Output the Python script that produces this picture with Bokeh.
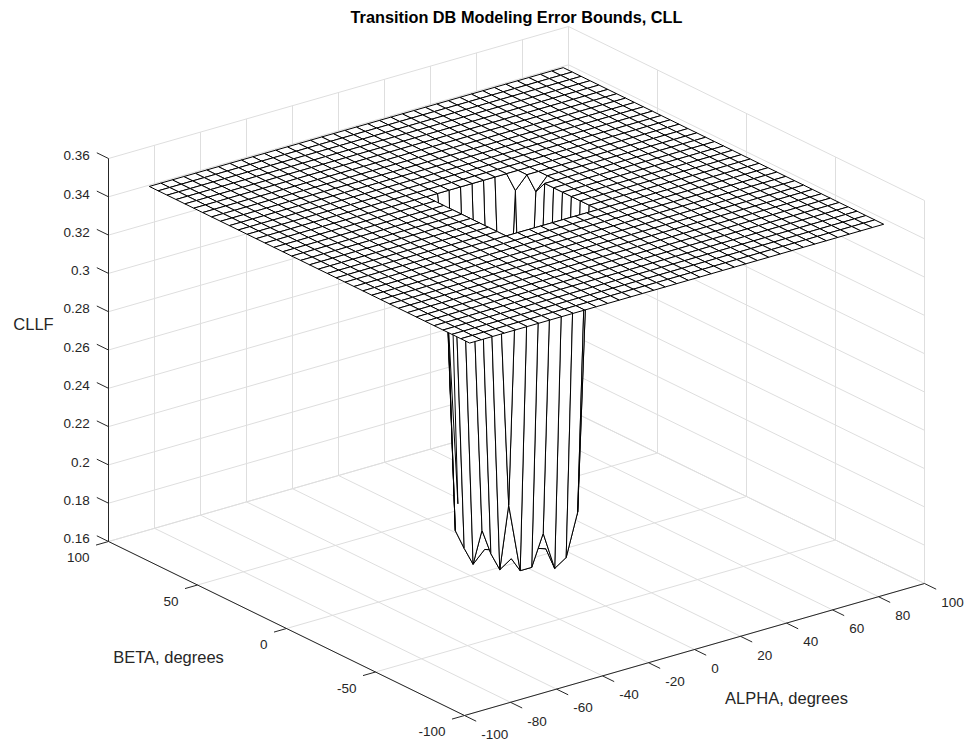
import numpy as np
from bokeh.plotting import figure
from bokeh.models import Range1d, ColumnDataSource, Label
from bokeh.core.properties import value
from bokeh.embed import file_html
from bokeh.resources import INLINE

# surface grid, degrees
alpha_deg = [-90, -85, -80, -75, -70, -65, -60, -55, -50, -45, -40, -35, -30, -25, -20, -15, -10, -5, 0,
             5, 10, 15, 20, 25, 30, 35, 40, 45, 50, 55, 60, 65, 70, 75, 80, 85, 90]
beta_deg = [-90, -85, -80, -75, -70, -65, -60, -55, -50, -45, -40, -35, -30, -25, -20, -15, -10, -5, 0,
            5, 10, 15, 20, 25, 30, 35, 40, 45, 50, 55, 60, 65, 70, 75, 80, 85, 90]
cllf_flat = 0.3465

# the well around alpha=beta=0 (rows: beta, columns: alpha)
well_alpha = [-15, -10, -5, 0, 5, 10, 15, 20]
well_beta = [-15, -10, -5, 0, 5, 10, 15, 20]
well_cllf = [
    [0.202, 0.166, 0.166, 0.182, 0.162, 0.166, 0.188, 0.3465],
    [0.166, 0.170, 0.168, 0.172, 0.170, 0.168, 0.172, 0.3465],
    [0.172, 0.168, 0.170, 0.168, 0.172, 0.170, 0.168, 0.3465],
    [0.182, 0.170, 0.168, 0.170, 0.168, 0.172, 0.170, 0.3465],
    [0.162, 0.168, 0.172, 0.168, 0.170, 0.168, 0.172, 0.3465],
    [0.168, 0.172, 0.170, 0.172, 0.168, 0.170, 0.180, 0.3465],
    [0.175, 0.170, 0.168, 0.170, 0.172, 0.180, 0.200, 0.340],
    [0.300, 0.185, 0.190, 0.195, 0.200, 0.210, 0.340, 0.3465],
]

alpha_ticks = [-100, -80, -60, -40, -20, 0, 20, 40, 60, 80, 100]
beta_ticks = [-100, -50, 0, 50, 100]
cllf_ticks = [0.16, 0.18, 0.2, 0.22, 0.24, 0.26, 0.28, 0.3, 0.32, 0.34, 0.36]
cllf_tick_labels = ["0.16", "0.18", "0.2", "0.22", "0.24", "0.26", "0.28", "0.3", "0.32", "0.34", "0.36"]

A_LIM = (-100, 100)
B_LIM = (-100, 100)
Z_LIM = (0.16, 0.36)

# view (az -37.5, el 30): page position of the box corner (alpha, beta, z mins) and box edges
ORIGIN = (464.0, 715.0)
EDGE_A = (460.0, -132.0)
EDGE_B = (-356.0, -174.0)
EDGE_Z = (0.0, -383.0)

DARK = "#262626"
GRID = "#dedede"
FONT = "Liberation Sans"


def unit(a, b, z):
    u = (np.asarray(a, float) - A_LIM[0]) / (A_LIM[1] - A_LIM[0])
    v = (np.asarray(b, float) - B_LIM[0]) / (B_LIM[1] - B_LIM[0])
    w = (np.asarray(z, float) - Z_LIM[0]) / (Z_LIM[1] - Z_LIM[0])
    return u, v, w


def proj(a, b, z):
    u, v, w = unit(a, b, z)
    x = ORIGIN[0] + u * EDGE_A[0] + v * EDGE_B[0] + w * EDGE_Z[0]
    y = ORIGIN[1] + u * EDGE_A[1] + v * EDGE_B[1] + w * EDGE_Z[1]
    return x, y


def toward_viewer(a, b, z):
    u, v, w = unit(a, b, z)
    return -0.527 * u - 0.687 * v + 0.5 * w


def direction(vec, length):
    n = np.hypot(vec[0], vec[1])
    return vec[0] / n * length, vec[1] / n * length


p = figure(width=967, height=744, x_range=Range1d(0, 967), y_range=Range1d(744, 0),
           toolbar_location=None, output_backend="svg", x_axis_type=None, y_axis_type=None,
           min_border=0)
p.outline_line_color = None
p.background_fill_color = "white"

# grid on floor and back walls
gx, gy = [], []
def seg(p0, p1):
    x0, y0 = proj(*p0)
    x1, y1 = proj(*p1)
    gx.append([float(x0), float(x1)])
    gy.append([float(y0), float(y1)])

for a in alpha_ticks:
    seg((a, B_LIM[0], Z_LIM[0]), (a, B_LIM[1], Z_LIM[0]))
    seg((a, B_LIM[1], Z_LIM[0]), (a, B_LIM[1], Z_LIM[1]))
for b in beta_ticks:
    seg((A_LIM[0], b, Z_LIM[0]), (A_LIM[1], b, Z_LIM[0]))
    seg((A_LIM[1], b, Z_LIM[0]), (A_LIM[1], b, Z_LIM[1]))
for z in cllf_ticks:
    seg((A_LIM[0], B_LIM[1], z), (A_LIM[1], B_LIM[1], z))
    seg((A_LIM[1], B_LIM[0], z), (A_LIM[1], B_LIM[1], z))
p.multi_line(gx, gy, line_color=GRID, line_width=1)

# axis lines
ax_pts = [((A_LIM[0], B_LIM[1], Z_LIM[0]), (A_LIM[0], B_LIM[1], Z_LIM[1])),
          ((A_LIM[0], B_LIM[0], Z_LIM[0]), (A_LIM[0], B_LIM[1], Z_LIM[0])),
          ((A_LIM[0], B_LIM[0], Z_LIM[0]), (A_LIM[1], B_LIM[0], Z_LIM[0]))]
axx, axy = [], []
for p0, p1 in ax_pts:
    x0, y0 = proj(*p0)
    x1, y1 = proj(*p1)
    axx.append([float(x0), float(x1)])
    axy.append([float(y0), float(y1)])

TICK = 13
tx, ty = [], []
zdx, zdy = direction(EDGE_B, TICK)
bdx, bdy = direction((-EDGE_A[0], -EDGE_A[1]), TICK)
adx, ady = direction((-EDGE_B[0], -EDGE_B[1]), TICK)

zx, zy = proj(np.full(len(cllf_ticks), A_LIM[0]), np.full(len(cllf_ticks), B_LIM[1]), cllf_ticks)
bx, by = proj(np.full(len(beta_ticks), A_LIM[0]), beta_ticks, np.full(len(beta_ticks), Z_LIM[0]))
ax_, ay_ = proj(alpha_ticks, np.full(len(alpha_ticks), B_LIM[0]), np.full(len(alpha_ticks), Z_LIM[0]))
for xs_, ys_, dx, dy in ((zx, zy, zdx, zdy), (bx, by, bdx, bdy), (ax_, ay_, adx, ady)):
    for x0, y0 in zip(xs_, ys_):
        tx.append([float(x0), float(x0 + dx)])
        ty.append([float(y0), float(y0 + dy)])
p.multi_line(axx + tx, axy + ty, line_color=DARK, line_width=1)

# tick labels
p.text(x=list(zx + zdx - 7), y=list(zy + zdy + 3), text=cllf_tick_labels, text_align="right",
       text_baseline="middle", text_font=value(FONT), text_font_size="13.5px", text_color=DARK)
p.text(x=list(bx + bdx - 6.5), y=list(by + bdy + 12.5), text=[str(b) for b in beta_ticks],
       text_align="right", text_baseline="middle", text_font=value(FONT), text_font_size="13.5px",
       text_color=DARK)
p.text(x=list(ax_ + adx + 5), y=list(ay_ + ady + 13), text=[str(a) for a in alpha_ticks],
       text_align="left", text_baseline="middle", text_font=value(FONT), text_font_size="13.5px",
       text_color=DARK)

# surface
A, B = np.meshgrid(alpha_deg, beta_deg)
Z = np.full(A.shape, cllf_flat)
for i, b in enumerate(well_beta):
    for j, a in enumerate(well_alpha):
        Z[beta_deg.index(b), alpha_deg.index(a)] = well_cllf[i][j]

PX, PY = proj(A, B, Z)
D = toward_viewer(A, B, Z)
quads = []
for i in range(len(beta_deg) - 1):
    for j in range(len(alpha_deg) - 1):
        idx = [(i, j), (i, j + 1), (i + 1, j + 1), (i + 1, j)]
        depth = np.mean([D[k] for k in idx])
        quads.append((depth, [float(PX[k]) for k in idx], [float(PY[k]) for k in idx]))
quads.sort(key=lambda q: q[0])
src = ColumnDataSource(dict(xs=[q[1] for q in quads], ys=[q[2] for q in quads]))
p.patches(xs="xs", ys="ys", source=src, fill_color="white", line_color="black", line_width=1)

# titles
p.add_layout(Label(x=516, y=16, text="Transition DB Modeling Error Bounds, CLL", text_align="center",
                   text_baseline="middle", text_font=FONT, text_font_style="bold",
                   text_font_size="16.3px", text_color="black"))
p.add_layout(Label(x=33, y=323, text="CLLF", text_align="center", text_baseline="middle",
                   text_font=FONT, text_font_size="16.5px", text_color=DARK))
p.add_layout(Label(x=168, y=656, text="BETA, degrees", text_align="center", text_baseline="middle",
                   text_font=FONT, text_font_size="16.5px", text_color=DARK))
p.add_layout(Label(x=786, y=697, text="ALPHA, degrees", text_align="center", text_baseline="middle",
                   text_font=FONT, text_font_size="16.5px", text_color=DARK))

open("out.html", "w").write(file_html(p, INLINE))
